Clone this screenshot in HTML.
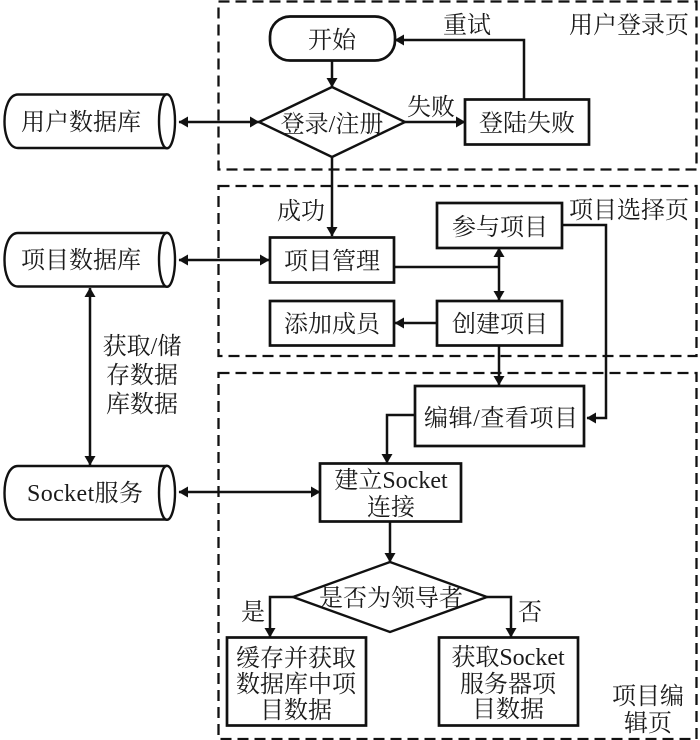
<!DOCTYPE html>
<html><head><meta charset="utf-8">
<style>
html,body{margin:0;padding:0;background:#fff;width:700px;height:740px;overflow:hidden}
svg{display:block}
text{font-family:"Liberation Serif","Noto Serif CJK SC",serif;font-size:24px;fill:#1a1a1a;text-anchor:middle}
.b{fill:#fff;stroke:#111;stroke-width:2.7}
.t{fill:#fff;stroke:#111;stroke-width:2.4}
.l{fill:none;stroke:#111;stroke-width:2.5}
.d{fill:none;stroke:#111;stroke-width:2.3;stroke-dasharray:11 6}
</style></head><body>
<svg width="700" height="740" viewBox="0 0 700 740" xmlns="http://www.w3.org/2000/svg">
<defs>
<marker id="a" markerUnits="userSpaceOnUse" markerWidth="10" markerHeight="12" refX="9" refY="6" orient="auto-start-reverse"><path d="M0,0.5L9.5,6L0,11.5Z" fill="#111"/></marker>
</defs>
<rect class="d" x="218.500" y="1.500" width="478" height="168"/>
<rect class="d" x="218.500" y="186" width="478" height="170"/>
<rect class="d" x="218.500" y="373" width="478" height="366"/>

<path class="l" d="M332,60V87" marker-end="url(#a)"/>
<path class="l" d="M179,122H259" marker-start="url(#a)" marker-end="url(#a)"/>
<path class="l" d="M405,122H465" marker-end="url(#a)"/>
<path class="l" d="M524,99V40H395" marker-end="url(#a)"/>
<path class="l" d="M332,157V236" marker-end="url(#a)"/>
<path class="l" d="M179,260H269" marker-start="url(#a)" marker-end="url(#a)"/>
<path class="l" d="M394,267H499"/>
<path class="l" d="M499,248V300" marker-start="url(#a)" marker-end="url(#a)"/>
<path class="l" d="M437,323H395" marker-end="url(#a)"/>
<path class="l" d="M499,345V385" marker-end="url(#a)"/>
<path class="l" d="M562,225H606V418H587" marker-end="url(#a)"/>
<path class="l" d="M415,415H387V463" marker-end="url(#a)"/>
<path class="l" d="M179,492H320" marker-start="url(#a)" marker-end="url(#a)"/>
<path class="l" d="M90,288V465" marker-start="url(#a)" marker-end="url(#a)"/>
<path class="l" d="M390,521V562" marker-end="url(#a)"/>
<path class="l" d="M293,597H270V637" marker-end="url(#a)"/>
<path class="l" d="M487,597H511V637" marker-end="url(#a)"/>

<rect class="b" x="270" y="16.500" width="125" height="44" rx="20"/>
<path class="t" d="M259,122L332,87L405,122L332,157Z"/>
<rect class="b" x="465" y="99.500" width="124" height="45"/>
<rect class="b" x="270" y="237.500" width="124" height="45"/>
<rect class="b" x="437" y="203" width="125" height="45"/>
<rect class="b" x="437" y="301" width="125" height="44.500"/>
<rect class="b" x="270" y="301" width="124" height="44.500"/>
<rect class="b" x="415" y="386" width="169" height="60"/>
<rect class="b" x="320" y="463.500" width="141" height="58"/>
<path class="t" d="M293,597L390,562L487,597L390,632Z"/>
<rect class="b" x="227" y="637.500" width="139" height="88"/>
<rect class="b" x="439" y="637.500" width="139" height="88"/>

<g><path class="t" d="M167,94.500H18C9,94.500 4.500,108 4.500,121.500S9,148 18,148H167"/><ellipse class="t" cx="167" cy="121.300" rx="8" ry="27"/></g>
<g><path class="t" d="M167,233H18C9,233 4.500,246 4.500,260S9,286.500 18,286.500H167"/><ellipse class="t" cx="167" cy="259.800" rx="8" ry="27"/></g>
<g><path class="t" d="M167,466H18C9,466 4.500,479 4.500,493S9,519.500 18,519.500H167"/><ellipse class="t" cx="167" cy="492.800" rx="8" ry="27"/></g>

<text x="332" y="48">开始</text>
<text x="332" y="132">登录/注册</text>
<text x="527" y="131">登陆失败</text>
<text x="431" y="115">失败</text>
<text x="467" y="33">重试</text>
<text x="629" y="33">用户登录页</text>
<text x="81" y="130">用户数据库</text>
<text x="301" y="219">成功</text>
<text x="332" y="269">项目管理</text>
<text x="500" y="235">参与项目</text>
<text x="629" y="218">项目选择页</text>
<text x="332" y="332">添加成员</text>
<text x="500" y="332">创建项目</text>
<text x="81" y="268">项目数据库</text>
<text x="142" y="354">获取/储</text>
<text x="142" y="383">存数据</text>
<text x="142" y="412">库数据</text>
<text x="501" y="426" textLength="154" lengthAdjust="spacing">编辑/查看项目</text>
<text x="391" y="488">建立Socket</text>
<text x="391" y="515">连接</text>
<text x="85" y="501" textLength="116" lengthAdjust="spacing">Socket服务</text>
<text x="391" y="606">是否为领导者</text>
<text x="253" y="620">是</text>
<text x="530" y="620">否</text>
<text x="296" y="666">缓存并获取</text>
<text x="296" y="692">数据库中项</text>
<text x="296" y="718">目数据</text>
<text x="508" y="665">获取Socket</text>
<text x="508" y="692">服务器项</text>
<text x="508" y="717">目数据</text>
<text x="648" y="704">项目编</text>
<text x="648" y="731">辑页</text>
</svg>
</body></html>
